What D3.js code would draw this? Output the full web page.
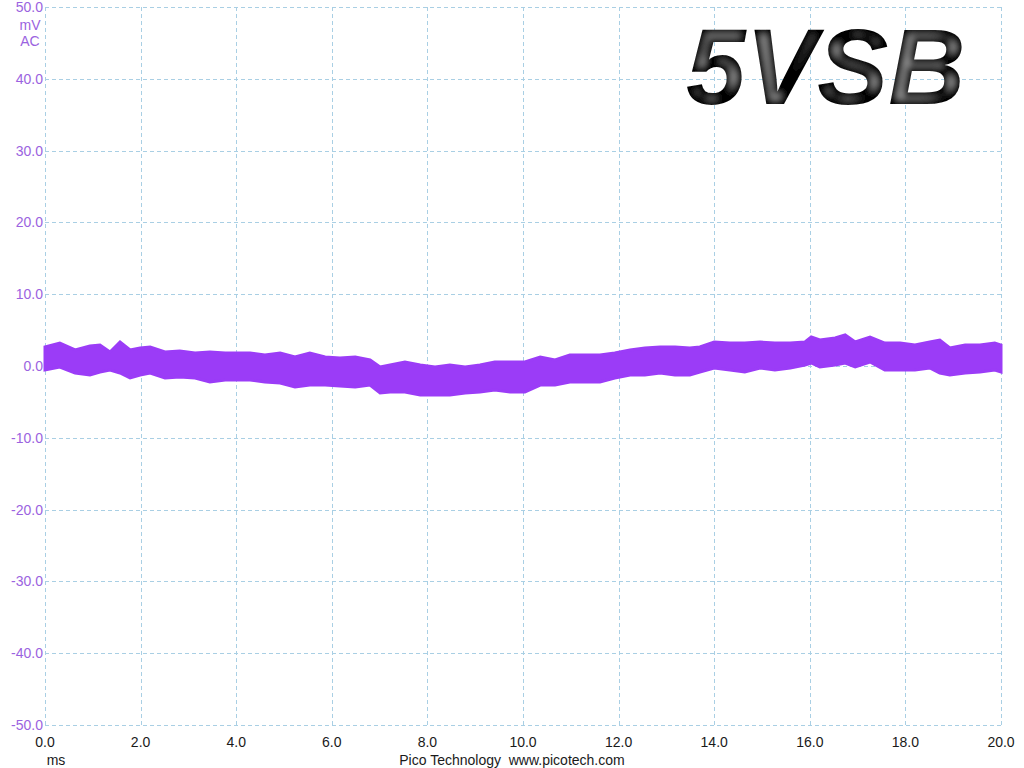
<!DOCTYPE html>
<html><head><meta charset="utf-8">
<script src="https://cdn.jsdelivr.net/npm/d3@7"></script>
<style>
html,body{margin:0;padding:0;background:#fff;}
svg{display:block;}
</style></head>
<body>
<svg id="chart" width="1024" height="768"></svg>
<script>
// Time axis (ms) and voltage axis (mV) ticks
const xTicks = [0,2,4,6,8,10,12,14,16,18,20];
const yTicks = [50,40,30,20,10,0,-10,-20,-30,-40,-50];
// Trace envelope: time (ms), upper and lower edge (mV)
const traceTime = [0.00,0.31,0.63,0.94,1.15,1.36,1.57,1.78,1.99,2.20,2.51,2.82,3.14,3.45,3.77,4.00,4.29,4.60,4.92,5.23,5.54,5.86,6.17,6.49,6.80,7.01,7.22,7.53,7.85,8.16,8.47,8.79,9.10,9.41,9.73,10.04,10.36,10.67,10.98,11.30,11.61,11.92,12.24,12.55,12.87,13.18,13.49,13.70,14.00,14.33,14.64,14.96,15.27,15.59,15.90,16.03,16.21,16.53,16.74,16.95,17.26,17.57,17.89,18.20,18.51,18.72,18.93,19.25,19.56,19.87,20.00];
const traceUpper = [2.65,3.20,2.23,2.79,2.92,1.95,3.34,2.23,2.51,2.65,1.95,2.09,1.81,1.95,1.81,1.81,1.81,1.53,1.81,1.25,1.81,1.25,1.11,1.25,0.84,-0.14,0.14,0.56,0.14,-0.14,0.14,-0.14,0.14,0.56,0.56,0.56,1.25,0.84,1.53,1.53,1.53,1.81,2.23,2.51,2.65,2.65,2.51,2.65,3.34,3.20,3.20,3.34,3.20,3.20,3.34,4.04,3.62,3.90,4.32,3.34,4.04,3.20,3.20,2.92,3.34,3.62,2.51,2.92,2.92,3.20,2.92];
const traceLower = [-0.56,-0.14,-0.97,-1.25,-0.84,-0.56,-0.97,-1.67,-1.25,-0.97,-1.67,-1.53,-1.67,-2.23,-1.95,-1.95,-1.95,-2.23,-2.37,-2.92,-2.65,-2.65,-2.79,-2.92,-2.65,-3.76,-3.62,-3.62,-4.04,-4.04,-4.04,-3.76,-3.62,-3.34,-3.62,-3.62,-2.65,-2.65,-2.23,-2.23,-2.23,-1.67,-1.25,-1.25,-0.97,-1.25,-1.25,-0.84,-0.28,-0.56,-0.84,-0.28,-0.56,-0.28,0.14,0.42,-0.14,0.14,0.42,-0.14,0.56,-0.56,-0.56,-0.56,-0.28,-0.97,-1.25,-0.97,-0.84,-0.56,-0.84];
const yUnits = ["mV","AC"];
const xUnit = "ms";
const footer = "Pico Technology\u00A0 www.picotech.com";
const title = "5VSB";

const svg = d3.select("#chart");
const L = 45, R = 1001, T = 7, B = 725;
const x = d3.scaleLinear().domain([0,20]).range([L,R]);
const y = d3.scaleLinear().domain([-50,50]).range([B,T]);

const defs = svg.append("defs");
const f = defs.append("filter").attr("id","bevel").attr("x","-10%").attr("y","-10%").attr("width","120%").attr("height","120%");
f.append("feMorphology").attr("in","SourceAlpha").attr("operator","erode").attr("radius",4.5).attr("result","er");
f.append("feGaussianBlur").attr("in","er").attr("stdDeviation",3).attr("result","bl");
f.append("feFlood").attr("flood-color","#a0a0a0").attr("result","fl");
f.append("feComposite").attr("in","fl").attr("in2","bl").attr("operator","in").attr("result","gray");
f.append("feComposite").attr("in","gray").attr("in2","SourceAlpha").attr("operator","in").attr("result","gray2");
const m = f.append("feMerge");
m.append("feMergeNode").attr("in","SourceGraphic");
m.append("feMergeNode").attr("in","gray2");

// grid
const grid = svg.append("g").attr("stroke","#a9cfe4").attr("stroke-width",1).attr("stroke-dasharray","4,3").attr("fill","none");
grid.selectAll("line.v").data(xTicks).join("line").attr("class","v")
  .attr("x1",d=>Math.round(x(d))+0.5).attr("x2",d=>Math.round(x(d))+0.5).attr("y1",T).attr("y2",B);
grid.selectAll("line.h").data(yTicks).join("line").attr("class","h")
  .attr("y1",d=>Math.round(y(d))+0.5).attr("y2",d=>Math.round(y(d))+0.5).attr("x1",L).attr("x2",R);

// y tick labels
const fontFam = "'Liberation Sans', Arial, sans-serif";
const fs = 14;
svg.append("g").selectAll("text").data(yTicks).join("text")
  .attr("x",L-2).attr("y",d=>y(d)).attr("dy","0.36em").attr("text-anchor","end")
  .attr("font-family",fontFam).attr("font-size",fs).attr("fill","#9b63e0")
  .text(d=>d.toFixed(1));
svg.append("g").selectAll("text").data(yUnits).join("text")
  .attr("x",30).attr("y",(d,i)=>y(50)+18+i*16).attr("dy","0.36em").attr("text-anchor","middle")
  .attr("font-family",fontFam).attr("font-size",fs).attr("fill","#9b63e0")
  .text(d=>d);

// x tick labels
svg.append("g").selectAll("text").data(xTicks).join("text")
  .attr("x",d=>x(d)).attr("y",B+22).attr("text-anchor","middle")
  .attr("font-family",fontFam).attr("font-size",fs).attr("fill","#1a1a1a")
  .text(d=>d.toFixed(1));
svg.append("text").attr("x",x(0)+11).attr("y",B+40).attr("text-anchor","middle")
  .attr("font-family",fontFam).attr("font-size",fs).attr("fill","#1a1a1a").text(xUnit);
svg.append("text").attr("x",512).attr("y",B+40).attr("text-anchor","middle")
  .attr("font-family",fontFam).attr("font-size",fs).attr("fill","#1a1a1a").text(footer);

// trace
const data = traceTime.map((t,i)=>({t, hi:traceUpper[i], lo:traceLower[i]}));
const area = d3.area().x(d=>x(d.t)).y0(d=>y(d.lo)).y1(d=>y(d.hi)).curve(d3.curveLinear);
svg.append("path").datum(data).attr("d",area)
  .attr("fill","#9b3cf7").attr("stroke","#9b3cf7").attr("stroke-width",3).attr("stroke-linejoin","miter");

// title
svg.append("text").attr("x",686).attr("y",104)
  .attr("font-family",fontFam).attr("font-weight","bold").attr("font-style","italic")
  .attr("font-size",107).attr("fill","#000").attr("filter","url(#bevel)").text(title);
</script>
</body></html>
